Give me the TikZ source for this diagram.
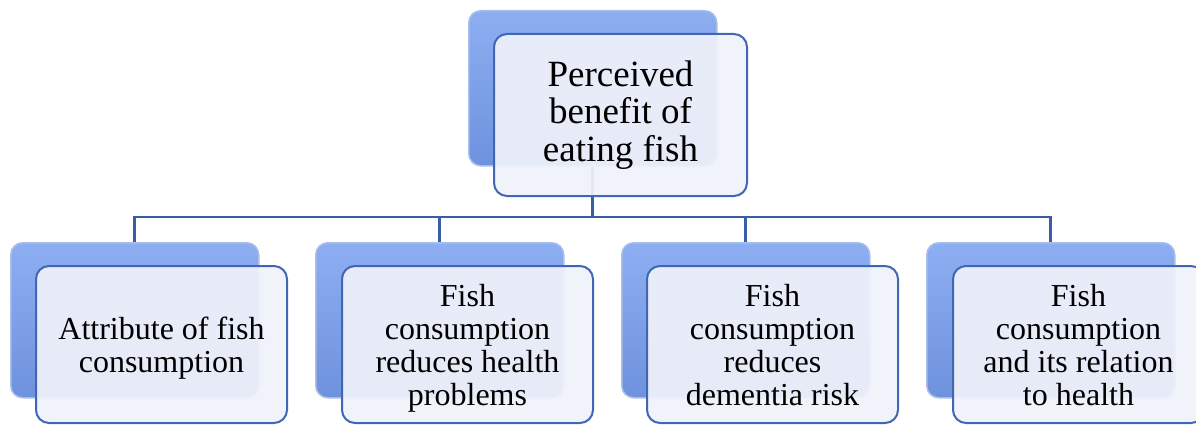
\documentclass[tikz,border=0pt]{standalone}
\usepackage{fontspec}
\setmainfont{Liberation Serif}
\usepackage{xcolor}
\usetikzlibrary{
  positioning,
  calc
}

\definecolor{backtop}{HTML}{8DAEF1}
\definecolor{backbot}{HTML}{6F92DE}
\definecolor{frontfill}{HTML}{F0F2FA}
\definecolor{edgeblue}{HTML}{3F67B6}
\definecolor{linkblue}{HTML}{3A5EA6}

\begin{document}
\begin{tikzpicture}[
  x=1pt, y=-1pt,
  backbox/.style={
    top color=backtop,
    bottom color=backbot,
    draw=backbot!60!white,
    line width=1.5pt,
    rounded corners=12pt,
    anchor=north west,
    minimum width=248pt,
    minimum height=155pt,
    inner sep=0pt
  },
  frontbox/.style={
    draw=edgeblue,
    fill=frontfill,
    fill opacity=0.93,
    text opacity=1,
    line width=2pt,
    rounded corners=13pt,
    align=center,
    minimum width=251pt,
    minimum height=157pt,
    inner sep=0pt,
    text depth=0pt,
    font=\fontsize{32}{33}\selectfont
  },
  link/.style={
    draw=linkblue,
    line width=2.6pt
  }
]

\useasboundingbox (0,0) rectangle (1196,425);

% Back boxes
\node[backbox] (topback) at (468,10) {};
\foreach \i/\x in {1/10, 2/315, 3/621, 4/926} {
  \node[backbox] (back\i) at (\x,242) {};
}

% Connectors
\coordinate (bar) at (0,217);
\foreach \i in {1,...,4} {
  \draw[link] (topback.south) -- (topback.south |- bar)
    -| (back\i.north);
}

% Front boxes
\node[frontbox, below right=23pt and 25pt of topback.north west,
  minimum width=253pt, minimum height=162pt, text depth=,
  font=\fontsize{37}{37.5}\selectfont] (top)
  {Perceived\\benefit of\\eating fish};

\node[frontbox, below right=23pt and 25pt of back1.north west] (attr)
  {Attribute of fish\\consumption};
\node[frontbox, below right=23pt and 26pt of back2.north west] (health)
  {Fish\\consumption\\reduces health\\problems};
\node[frontbox, below right=23pt and 25pt of back3.north west] (dementia)
  {Fish\\consumption\\reduces\\dementia risk};
\node[frontbox, below right=23pt and 26pt of back4.north west] (relation)
  {Fish\\consumption\\and its relation\\to health};

\end{tikzpicture}
\end{document}
